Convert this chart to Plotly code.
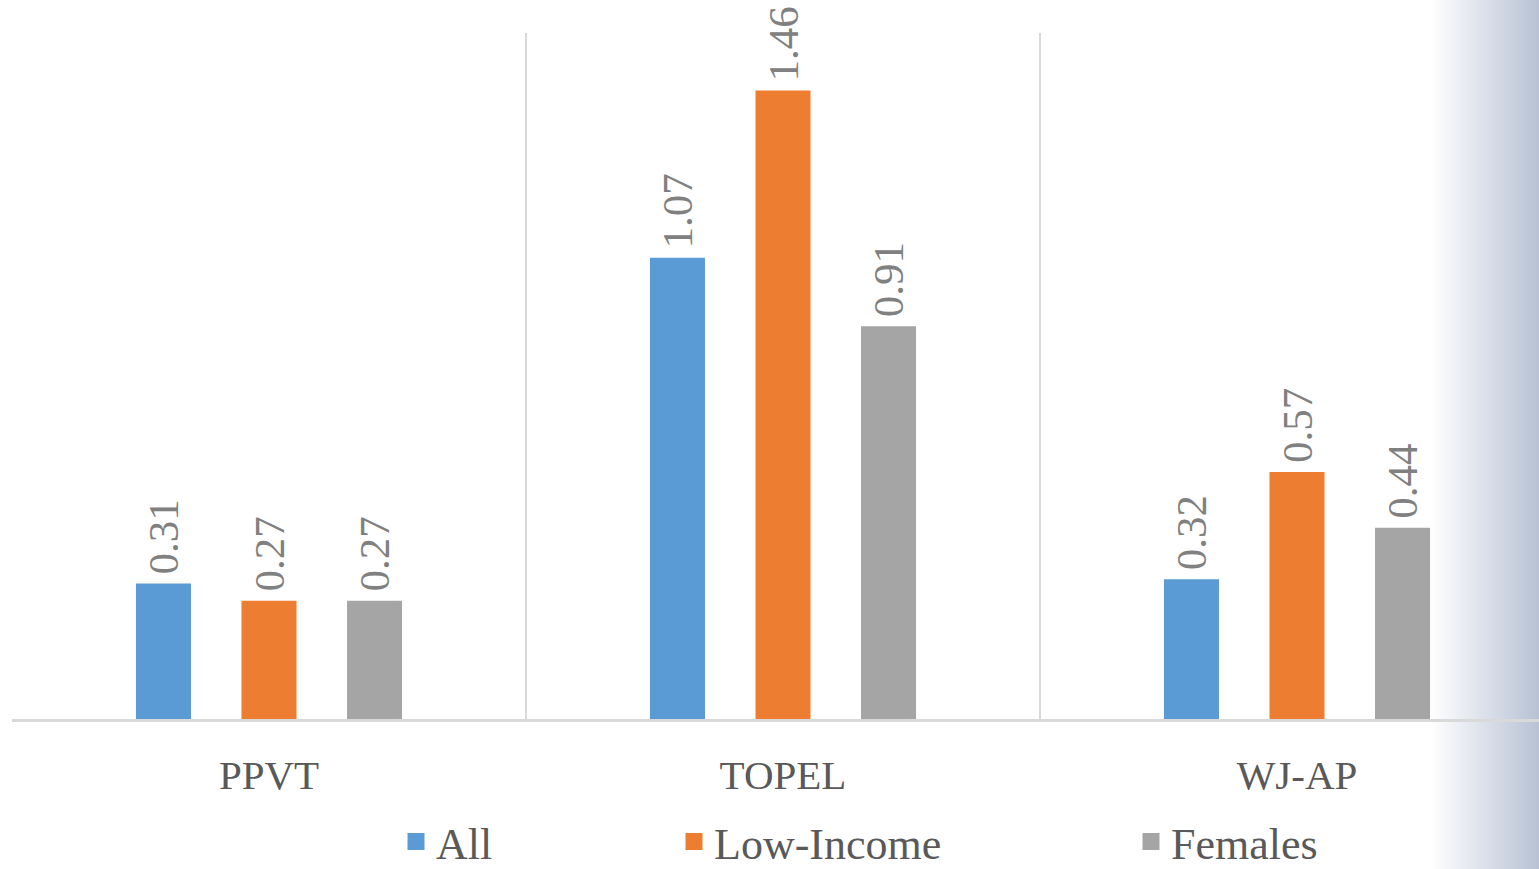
import plotly.graph_objects as go

categories = ["PPVT", "TOPEL", "WJ-AP"]
series_names = ["All", "Low-Income", "Females"]
all_vals = [0.31, 1.07, 0.32]
low_income_vals = [0.27, 1.46, 0.57]
female_vals = [0.27, 0.91, 0.44]
colors = ["#5B9BD5", "#ED7D31", "#A5A5A5"]

W, H = 1539, 869
L, T, B = 12, 33, 150
plot_w = W - L
plot_h = H - T - B
cat_px = 514.0

serif = "Liberation Serif, Times New Roman, serif"

fig = go.Figure()
legend_ids = ["legend", "legend2", "legend3"]
for name, vals, col, lg in zip(series_names, [all_vals, low_income_vals, female_vals], colors, legend_ids):
    fig.add_trace(go.Bar(
        x=categories, y=vals, name=name, marker=dict(color=col, line=dict(width=5, color=col)),
        text=[f"\u2009{v:.2f}" for v in vals], textposition="outside", textangle=-90,
        textfont=dict(family=serif, size=43, color="#808080"),
        constraintext="none", cliponaxis=False, legend=lg,
    ))

# gradient decoration on the right
shapes = []
g0, g1 = 1430, W
steps = g1 - g0
end_rgb = (184, 194, 212)
for i in range(steps):
    t = (i + 0.5) / steps
    r = round(255 + (end_rgb[0] - 255) * t)
    g = round(255 + (end_rgb[1] - 255) * t)
    b = round(255 + (end_rgb[2] - 255) * t)
    x0 = (g0 + i - L) / plot_w
    x1 = (g0 + i + 1.2 - L) / plot_w
    shapes.append(dict(type="rect", xref="paper", yref="paper", x0=x0, x1=x1,
                       y0=-(B + 5) / plot_h, y1=(plot_h + T + 5) / plot_h,
                       fillcolor=f"rgb({r},{g},{b})", line=dict(width=0), layer="below"))

def leg(xpx):
    return dict(x=(xpx - L) / plot_w, xref="paper", y=1 - 842 / H, yref="container",
                xanchor="left", yanchor="middle",
                orientation="h", font=dict(family=serif, size=44, color="#595959"),
                bgcolor="rgba(0,0,0,0)", borderwidth=0)

fig.update_layout(
    width=W, height=H,
    margin=dict(l=L, r=0, t=T, b=B, autoexpand=False),
    paper_bgcolor="white", plot_bgcolor="rgba(0,0,0,0)",
    barmode="group", bargap=0.384, bargroupgap=0.526,
    shapes=shapes,
    showlegend=True,
    legend=leg(396), legend2=leg(674), legend3=leg(1131),
    xaxis=dict(
        type="category", range=[-0.5, -0.5 + plot_w / cat_px],
        tickson="boundaries", showgrid=True, gridcolor="#D9D9D9", gridwidth=2,
        showline=True, linecolor="#D9D9D9", linewidth=3, ticks="",
        tickfont=dict(family=serif, size=41, color="#595959"),
        ticklabelstandoff=18, automargin=False,
    ),
    yaxis=dict(range=[0, 1.6], visible=False, showgrid=False, zeroline=False),
)

fig.write_html("out.html")
